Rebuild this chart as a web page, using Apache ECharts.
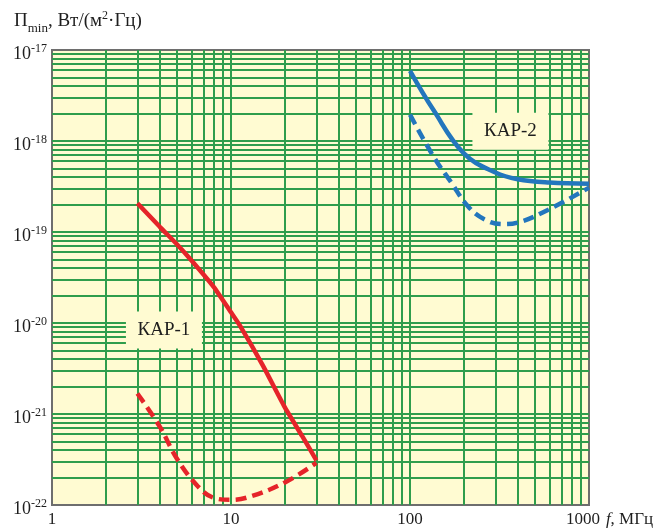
<!DOCTYPE html>
<html>
<head>
<meta charset="utf-8">
<script src="https://cdn.jsdelivr.net/npm/echarts@6/dist/echarts.min.js"></script>
<style>
  html, body { margin: 0; padding: 0; background: #ffffff; }
  #chart { width: 669px; height: 528px; }
</style>
</head>
<body>
<div id="chart"></div>
<script>
// Minimum power flux density vs frequency, log-log scale
const xTicks = [1, 10, 100, 1000];
const yExponents = [-22, -21, -20, -19, -18, -17];

// КАР-1
const kar1SolidFreq = [3, 4, 5, 6, 8, 10, 11.2, 15, 20, 25, 30];
const kar1SolidVal  = [2.07e-19, 1.14e-19, 7.3e-20, 4.9e-20, 2.5e-20, 1.31e-20, 9.4e-21, 3.46e-21, 1.18e-21, 5.7e-22, 3.1e-22];
const kar1DashFreq  = [3, 4, 5, 6.5, 8, 10, 13, 20, 30];
const kar1DashVal   = [1.68e-21, 7.26e-22, 3.2e-22, 1.62e-22, 1.2e-22, 1.14e-22, 1.25e-22, 1.77e-22, 2.9e-22];

// КАР-2
const kar2SolidFreq = [100, 135, 200, 300, 400, 600, 1000];
const kar2SolidVal  = [5.9e-18, 2.2e-18, 7.3e-19, 4.5e-19, 3.8e-19, 3.5e-19, 3.4e-19];
const kar2DashFreq  = [100, 135, 170, 210, 260, 330, 400, 600, 1000];
const kar2DashVal   = [1.95e-18, 6.8e-19, 3.5e-19, 1.93e-19, 1.38e-19, 1.22e-19, 1.27e-19, 1.78e-19, 3.07e-19];

// label anchors (frequency, value)
const kar1Label = { name: 'КАР-1', at: [4.22, 8.4e-21] };
const kar2Label = { name: 'КАР-2', at: [364, 1.28e-18] };

// The y axis works in units of 1e-22 W/(m²·Hz): ECharts rounds numbers
// to 20 decimals, so raw values this small would collapse to zero.
const Y_UNIT = 1e-22;
const toUnit = v => v / Y_UNIT;
const pairs = (xs, ys) => xs.map((x, i) => [x, toUnit(ys[i])]);

// minor grid positions 2..9 within each decade
const xMinor = [];
for (let d = 1; d < 1000; d *= 10) for (let k = 2; k <= 9; k++) xMinor.push(d * k);
const yMinor = [];
for (let e = -22; e < -17; e++) for (let k = 2; k <= 9; k++) yMinor.push(k * Math.pow(10, e + 22));

const GREEN = '#2f9d4c';
const BG = '#fffbd2';
const SERIF = 'Liberation Serif';
const INK = '#1e1e1e';
const RED = '#e5242a';
const BLUE = '#2376bd';

const chart = echarts.init(document.getElementById('chart'));

function boxLabel(lbl) {
  return {
    coord: [lbl.at[0], toUnit(lbl.at[1])],
    symbol: 'rect',
    symbolSize: [76, 37],
    itemStyle: { color: BG },
    label: {
      show: true,
      position: 'inside',
      formatter: lbl.name,
      color: INK,
      fontFamily: SERIF,
      fontSize: 19
    }
  };
}

chart.setOption({
  animation: false,
  title: {
    left: 9,
    top: 5,
    text: '{n|П}{sub|min}{n|, Вт/(м}{sup|2}{n|·Гц)}',
    textStyle: {
      fontWeight: 'normal',
      rich: {
        n:   { fontFamily: SERIF, fontSize: 19, fontWeight: 'normal', color: INK, verticalAlign: 'bottom', padding: [0, 0, 4, 0] },
        sub: { fontFamily: SERIF, fontSize: 13, fontWeight: 'normal', color: INK, verticalAlign: 'bottom' },
        sup: { fontFamily: SERIF, fontSize: 12, fontWeight: 'normal', color: INK, verticalAlign: 'bottom', padding: [0, 0, 13, 0] }
      }
    }
  },
  grid: {
    left: 52, right: 80, top: 50, bottom: 21,
    show: true,
    backgroundColor: BG,
    borderColor: '#6e6e6e',
    borderWidth: 2
  },
  xAxis: {
    type: 'log',
    logBase: 10,
    min: 1,
    max: 1000,
    name: '{i|f}{n|, МГц}',
    nameLocation: 'end',
    nameGap: 16,
    nameTextStyle: {
      fontFamily: SERIF, fontSize: 17, color: INK,
      rich: {
        i: { fontFamily: SERIF, fontSize: 17, fontStyle: 'italic', color: INK, padding: [29, 0, 0, 0] },
        n: { fontFamily: SERIF, fontSize: 17, color: INK, padding: [29, 0, 0, 0] }
      }
    },
    axisLine: { show: false },
    axisTick: { show: false },
    axisLabel: {
      margin: 6,
      fontFamily: SERIF,
      fontSize: 17,
      color: INK,
      formatter: v => {
        const t = xTicks.find(x => Math.abs(x - v) < 1e-6 * x);
        if (t === undefined) return '';
        return t === 1000 ? '{r|' + t + '}' : String(t);
      },
      rich: { r: { fontFamily: SERIF, fontSize: 17, color: INK, padding: [0, 12, 0, 0] } }
    },
    splitLine: { show: true, showMinLine: false, showMaxLine: false, lineStyle: { color: GREEN, width: 2 } }
  },
  yAxis: {
    type: 'log',
    logBase: 10,
    min: toUnit(Math.pow(10, yExponents[0])),
    max: toUnit(Math.pow(10, yExponents[yExponents.length - 1])),
    axisLine: { show: false },
    axisTick: { show: false },
    axisLabel: {
      margin: 5,
      padding: [6, 0, 0, 0],
      formatter: v => {
        const e = Math.round(Math.log10(v)) - 22;
        if (!yExponents.includes(e)) return '';
        return '{b|10}{s|' + e + '}';
      },
      rich: {
        b: { fontFamily: SERIF, fontSize: 18, color: INK, verticalAlign: 'bottom' },
        s: { fontFamily: SERIF, fontSize: 12, color: INK, verticalAlign: 'bottom', padding: [0, 0, 9, 0] }
      }
    },
    splitLine: { show: true, showMinLine: false, showMaxLine: false, lineStyle: { color: GREEN, width: 2 } }
  },
  series: [
    {
      // minor log grid
      type: 'line',
      z: 1,
      data: [],
      silent: true,
      markLine: {
        z: 1,
        silent: true,
        symbol: ['none', 'none'],
        label: { show: false },
        lineStyle: { color: GREEN, width: 2, type: 'solid' },
        emphasis: { disabled: true },
        data: xMinor.map(v => ({ xAxis: v })).concat(yMinor.map(v => ({ yAxis: v })))
      }
    },
    {
      name: 'КАР-1', type: 'line', z: 4, smooth: 0.2, showSymbol: false,
      data: pairs(kar1SolidFreq, kar1SolidVal),
      lineStyle: { color: RED, width: 4.5 },
      markPoint: { z: 3, silent: true, data: [boxLabel(kar1Label)] }
    },
    {
      type: 'line', z: 4, smooth: 0.4, showSymbol: false,
      data: pairs(kar1DashFreq, kar1DashVal),
      lineStyle: { color: RED, width: 4.5, type: [11, 6] }
    },
    {
      name: 'КАР-2', type: 'line', z: 4, smooth: 0.4, showSymbol: false,
      data: pairs(kar2SolidFreq, kar2SolidVal),
      lineStyle: { color: BLUE, width: 4.5 },
      markPoint: { z: 3, silent: true, data: [boxLabel(kar2Label)] }
    },
    {
      type: 'line', z: 4, smooth: 0.4, showSymbol: false,
      data: pairs(kar2DashFreq, kar2DashVal),
      lineStyle: { color: BLUE, width: 4.5, type: [11, 6] }
    }
  ]
});
</script>
</body>
</html>
